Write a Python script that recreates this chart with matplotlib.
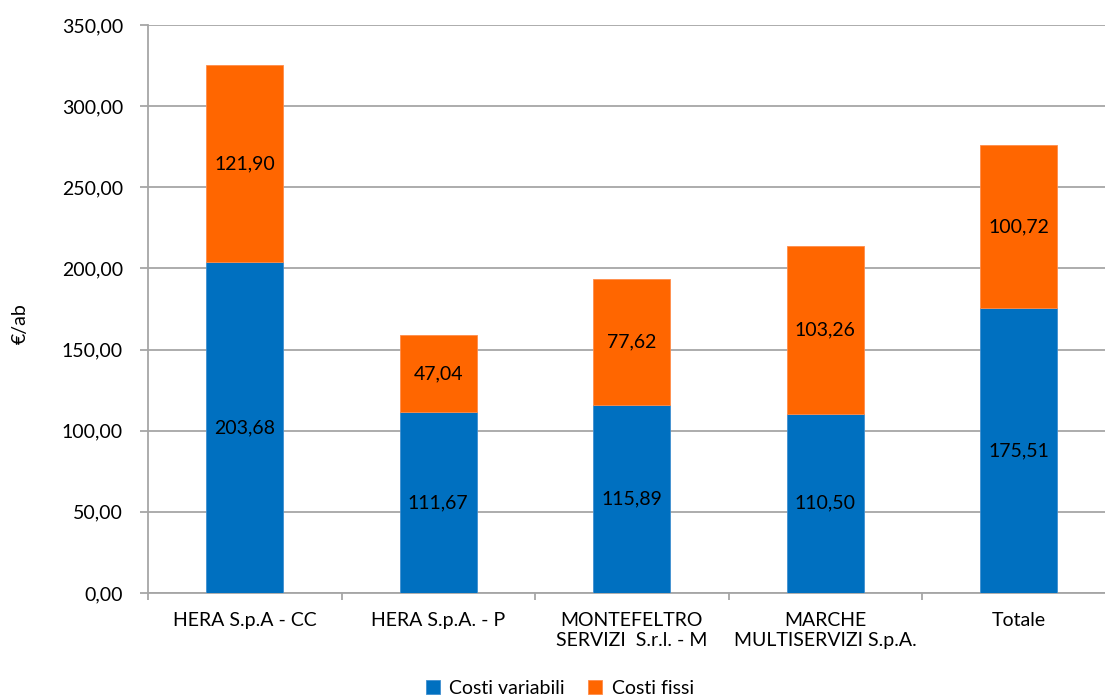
import matplotlib
matplotlib.use('Agg')
import matplotlib.pyplot as plt
import numpy as np

categories = ["HERA S.p.A - CC", "HERA S.p.A. - P", "MONTEFELTRO\nSERVIZI  S.r.l. - M",
              "MARCHE\nMULTISERVIZI S.p.A.", "Totale"]
costi_variabili = [203.68, 111.67, 115.89, 110.50, 175.51]
costi_fissi = [121.90, 47.04, 77.62, 103.26, 100.72]
y_ticks = [0, 50, 100, 150, 200, 250, 300, 350]
series_names = ["Costi variabili", "Costi fissi"]
y_label = "€/ab"

plt.rcParams['font.family'] = ['Lato', 'DejaVu Sans']

W, H = 1105, 697
fig = plt.figure(figsize=(W / 100, H / 100), dpi=100)
ax = fig.add_axes([148 / W, 104 / H, 967.5 / W, 568 / H])

def fmt(v):
    return f"{v:.2f}".replace('.', ',')

x = np.arange(len(categories))
b1 = ax.bar(x, costi_variabili, width=0.4, color='#0070C0', edgecolor='#3f8fd0',
            linewidth=0.6, label=series_names[0], zorder=3)
b2 = ax.bar(x, costi_fissi, bottom=costi_variabili, width=0.4, color='#FF6600',
            edgecolor='#ff8c4a', linewidth=0.6, label=series_names[1], zorder=3)

ax.bar_label(b1, labels=[fmt(v) for v in costi_variabili], label_type='center',
             fontsize=14, color='black')
ax.bar_label(b2, labels=[fmt(v) for v in costi_fissi], label_type='center',
             fontsize=14, color='black')

ax.set_xlim(-0.5, len(categories) - 0.5)
ax.set_ylim(0, 350)
ax.set_yticks(y_ticks)
ax.set_yticklabels([fmt(v) for v in y_ticks])
ax.set_xticks(x)
ax.set_xticklabels(categories, linespacing=1.2)
ax.set_xticks(np.arange(-0.5, len(categories), 1.0), minor=True)

gc = '#a6a6a6'
ax.grid(axis='y', color=gc, linewidth=1.3, zorder=0)
ax.set_axisbelow(True)
for s in ['top', 'right']:
    ax.spines[s].set_visible(False)
for s in ['left', 'bottom']:
    ax.spines[s].set_color(gc)
    ax.spines[s].set_linewidth(1.3)

ax.tick_params(axis='y', length=6, width=1.3, color=gc, pad=12, labelsize=14)
ax.tick_params(axis='x', which='major', length=0, pad=14, labelsize=14)
ax.tick_params(axis='x', which='minor', length=5, width=1.3, color=gc)

ax.set_ylabel(y_label, fontsize=14, va='center', ha='center')
ax.yaxis.set_label_coords((20 - 148) / 967.5, (697 - 324 - 104) / 568)

fig.legend(handles=[b1, b2], labels=series_names, loc='center',
           bbox_to_anchor=(560 / W, 1 - 688 / H), ncol=2, frameon=False,
           fontsize=14, handlelength=0.7, handleheight=0.7, handletextpad=0.5,
           columnspacing=1.2)

fig.savefig('out.png', dpi=100)
